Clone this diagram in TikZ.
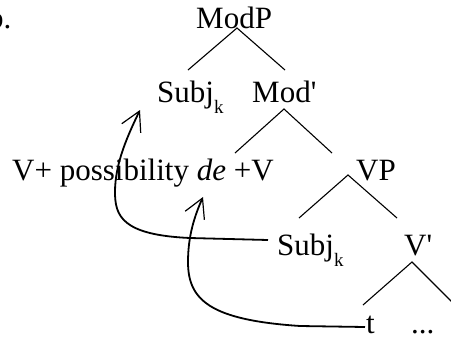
\documentclass[tikz,border=0pt]{standalone}
\usepackage{fontspec}
\setmainfont[Ligatures=TeXOff]{Liberation Serif}
\usetikzlibrary{arrows.meta,calc}
\newcommand{\subk}{\raisebox{-11pt}{\fontsize{19}{19}\selectfont k}}
\begin{document}
\begin{tikzpicture}[x=1pt,y=-1pt,
  lbl/.style={anchor=base west, inner sep=0pt, font=\fontsize{31}{34}\selectfont},
  branch/.style={line width=1.1pt},
  mv/.style={line width=1.8pt, -{Straight Barb[length=19pt,width=21pt,line width=1.2pt]}}]
\useasboundingbox (0,0) rectangle (451,341);
% labels
\node[lbl] (lab)   at (-12,28)  {b.};
\node[lbl] (modp)  at (196,28)  {ModP};
\node[lbl] (subj1) at (157,102) {Subj\subk};
\node[lbl] (modb)  at (252,102) {Mod'};
\node[lbl] (vpos)  at (12,180)  {V+ possibility \textit{de} +V};
\node[lbl] (vp)    at (356,180) {VP};
\node[lbl] (subj2) at (277,255) {Subj\subk};
\node[lbl] (vb)    at (404,255) {V'};
\node[lbl] (t)     at (366,333) {t};
\node[lbl] (dots)  at (411,333) {...};
% branch points
\coordinate (a1) at (237,28);
\coordinate (l1) at (188,70);
\coordinate (r1) at (285,70);
\coordinate (a2) at (284,109);
\coordinate (l2) at (235,153);
\coordinate (r2) at (332,153);
\coordinate (a3) at (348,175);
\coordinate (l3) at (299,218);
\coordinate (r3) at (397,218);
\coordinate (a4) at (412,262);
\coordinate (l4) at (363,305);
\coordinate (r4) at (460,310);
\draw[branch] (l1) -- (a1) -- (r1);
\draw[branch] (l2) -- (a2) -- (r2);
\draw[branch] (l3) -- (a3) -- (r3);
\draw[branch] (l4) -- (a4) -- (r4);
% movement arrows
\coordinate (s1) at ($(subj2.base west)+(-9,-15)$);
\coordinate (e1) at ($(subj1.base west)+(-17,8)$);
\coordinate (s2) at ($(t.base west)+(-1,-6)$);
\coordinate (e2) at ($(vpos.base west)+(191,17)$);
\draw[mv] (s1) -- (190,238) .. controls (122,235) and (115,216) .. (115,192)
  .. controls (115,163) and (128,135) .. (e1);
\draw[mv] (s2) -- (300,326) .. controls (210,320) and (188,300) .. (188,262)
  .. controls (188,235) and (195,215) .. (e2);
\end{tikzpicture}
\end{document}
